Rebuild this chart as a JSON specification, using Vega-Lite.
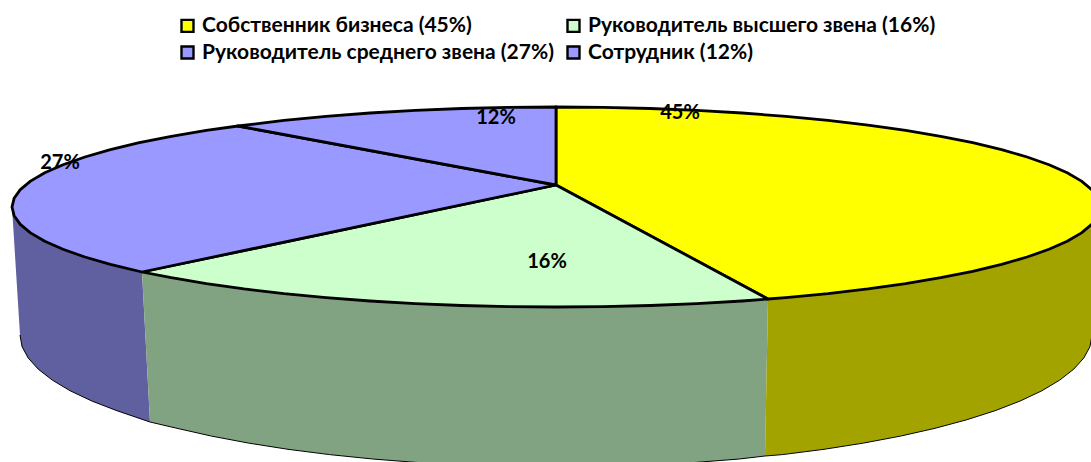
{
"$schema":"https://vega.github.io/schema/vega-lite/v6.json",
"width":1091,"height":462,"padding":0,
"autosize":{"type":"fit","contains":"padding"},
"background":"white",
"config":{"view":{"stroke":null}},
"datasets":{
"side":[
{"part":"purple","seq":1,"x":12,"y":207},{"part":"purple","seq":2,"x":14.1,"y":215.7},{"part":"purple","seq":3,"x":20.3,"y":224.4},{"part":"purple","seq":4,"x":30.5,"y":232.9},{"part":"purple","seq":5,"x":44.8,"y":241.2},{"part":"purple","seq":6,"x":63,"y":249.3},{"part":"purple","seq":7,"x":84.9,"y":257},{"part":"purple","seq":8,"x":110.4,"y":264.4},{"part":"purple","seq":9,"x":142,"y":272},{"part":"purple","seq":10,"x":150,"y":422},{"part":"purple","seq":11,"x":116.9,"y":410.7},{"part":"purple","seq":12,"x":91.8,"y":401},{"part":"purple","seq":13,"x":70.2,"y":390.8},{"part":"purple","seq":14,"x":52.3,"y":380.1},{"part":"purple","seq":15,"x":38.3,"y":369.2},{"part":"purple","seq":16,"x":28.1,"y":357.9},{"part":"purple","seq":17,"x":22,"y":346.5},{"part":"purple","seq":18,"x":20,"y":335},{"part":"purple","seq":19,"x":12,"y":207},
{"part":"green","seq":1,"x":142,"y":272},{"part":"green","seq":2,"x":171.3,"y":277.7},{"part":"green","seq":3,"x":206.3,"y":283.6},{"part":"green","seq":4,"x":244,"y":288.9},{"part":"green","seq":5,"x":284,"y":293.6},{"part":"green","seq":6,"x":326.1,"y":297.6},{"part":"green","seq":7,"x":370,"y":301},{"part":"green","seq":8,"x":415.2,"y":303.6},{"part":"green","seq":9,"x":461.6,"y":305.5},{"part":"green","seq":10,"x":508.6,"y":306.6},{"part":"green","seq":11,"x":556,"y":307},{"part":"green","seq":12,"x":603.4,"y":306.6},{"part":"green","seq":13,"x":650.4,"y":305.5},{"part":"green","seq":14,"x":696.8,"y":303.6},{"part":"green","seq":15,"x":742,"y":301},{"part":"green","seq":16,"x":768,"y":299},{"part":"green","seq":17,"x":765,"y":456},{"part":"green","seq":18,"x":739.3,"y":459},{"part":"green","seq":19,"x":694.7,"y":462.5},{"part":"green","seq":20,"x":649.1,"y":465},{"part":"green","seq":21,"x":602.7,"y":466.5},{"part":"green","seq":22,"x":556,"y":467},{"part":"green","seq":23,"x":509.3,"y":466.5},{"part":"green","seq":24,"x":462.9,"y":465},{"part":"green","seq":25,"x":417.3,"y":462.5},{"part":"green","seq":26,"x":372.7,"y":459},{"part":"green","seq":27,"x":329.5,"y":454.6},{"part":"green","seq":28,"x":288,"y":449.3},{"part":"green","seq":29,"x":248.6,"y":443.1},{"part":"green","seq":30,"x":211.5,"y":436.1},{"part":"green","seq":31,"x":177,"y":428.3},{"part":"green","seq":32,"x":150,"y":422},{"part":"green","seq":33,"x":142,"y":272},
{"part":"yellow","seq":1,"x":768,"y":299},{"part":"yellow","seq":2,"x":785.9,"y":297.6},{"part":"yellow","seq":3,"x":828,"y":293.6},{"part":"yellow","seq":4,"x":868,"y":288.9},{"part":"yellow","seq":5,"x":905.7,"y":283.6},{"part":"yellow","seq":6,"x":940.7,"y":277.7},{"part":"yellow","seq":7,"x":972.7,"y":271.3},{"part":"yellow","seq":8,"x":1001.6,"y":264.4},{"part":"yellow","seq":9,"x":1027.1,"y":257},{"part":"yellow","seq":10,"x":1049,"y":249.3},{"part":"yellow","seq":11,"x":1067.2,"y":241.2},{"part":"yellow","seq":12,"x":1081.5,"y":232.9},{"part":"yellow","seq":13,"x":1091.7,"y":224.4},{"part":"yellow","seq":14,"x":1097.9,"y":215.7},{"part":"yellow","seq":15,"x":1100,"y":207},{"part":"yellow","seq":16,"x":1092,"y":335},{"part":"yellow","seq":17,"x":1090,"y":346.5},{"part":"yellow","seq":18,"x":1083.9,"y":357.9},{"part":"yellow","seq":19,"x":1073.7,"y":369.2},{"part":"yellow","seq":20,"x":1059.7,"y":380.1},{"part":"yellow","seq":21,"x":1041.8,"y":390.8},{"part":"yellow","seq":22,"x":1020.2,"y":401},{"part":"yellow","seq":23,"x":995.1,"y":410.7},{"part":"yellow","seq":24,"x":966.6,"y":419.8},{"part":"yellow","seq":25,"x":935,"y":428.3},{"part":"yellow","seq":26,"x":900.5,"y":436.1},{"part":"yellow","seq":27,"x":863.4,"y":443.1},{"part":"yellow","seq":28,"x":824,"y":449.3},{"part":"yellow","seq":29,"x":782.5,"y":454.6},{"part":"yellow","seq":30,"x":765,"y":456},{"part":"yellow","seq":31,"x":768,"y":299}
],
"rim":[
{"seq":1,"x":20,"y":335},{"seq":2,"x":22,"y":346.5},{"seq":3,"x":28.1,"y":357.9},{"seq":4,"x":38.3,"y":369.2},{"seq":5,"x":52.3,"y":380.1},{"seq":6,"x":70.2,"y":390.8},{"seq":7,"x":91.8,"y":401},{"seq":8,"x":116.9,"y":410.7},{"seq":9,"x":150,"y":422},{"seq":10,"x":177,"y":428.3},{"seq":11,"x":211.5,"y":436.1},{"seq":12,"x":248.6,"y":443.1},{"seq":13,"x":288,"y":449.3},{"seq":14,"x":329.5,"y":454.6},{"seq":15,"x":372.7,"y":459},{"seq":16,"x":417.3,"y":462.5},{"seq":17,"x":462.9,"y":465},{"seq":18,"x":509.3,"y":466.5},{"seq":19,"x":556,"y":467},{"seq":20,"x":602.7,"y":466.5},{"seq":21,"x":649.1,"y":465},{"seq":22,"x":694.7,"y":462.5},{"seq":23,"x":739.3,"y":459},{"seq":24,"x":765,"y":456},{"seq":25,"x":782.5,"y":454.6},{"seq":26,"x":824,"y":449.3},{"seq":27,"x":863.4,"y":443.1},{"seq":28,"x":900.5,"y":436.1},{"seq":29,"x":935,"y":428.3},{"seq":30,"x":966.6,"y":419.8},{"seq":31,"x":995.1,"y":410.7},{"seq":32,"x":1020.2,"y":401},{"seq":33,"x":1041.8,"y":390.8},{"seq":34,"x":1059.7,"y":380.1},{"seq":35,"x":1073.7,"y":369.2},{"seq":36,"x":1083.9,"y":357.9},{"seq":37,"x":1090,"y":346.5},{"seq":38,"x":1092,"y":335}
],
"top":[
{"slice":"Собственник бизнеса (45%)","seq":1,"x":556,"y":185},{"slice":"Собственник бизнеса (45%)","seq":2,"x":556,"y":107},{"slice":"Собственник бизнеса (45%)","seq":3,"x":603.4,"y":107.4},{"slice":"Собственник бизнеса (45%)","seq":4,"x":650.4,"y":108.5},{"slice":"Собственник бизнеса (45%)","seq":5,"x":696.8,"y":110.4},{"slice":"Собственник бизнеса (45%)","seq":6,"x":742,"y":113},{"slice":"Собственник бизнеса (45%)","seq":7,"x":785.9,"y":116.4},{"slice":"Собственник бизнеса (45%)","seq":8,"x":828,"y":120.4},{"slice":"Собственник бизнеса (45%)","seq":9,"x":868,"y":125.1},{"slice":"Собственник бизнеса (45%)","seq":10,"x":905.7,"y":130.4},{"slice":"Собственник бизнеса (45%)","seq":11,"x":940.7,"y":136.3},{"slice":"Собственник бизнеса (45%)","seq":12,"x":972.7,"y":142.7},{"slice":"Собственник бизнеса (45%)","seq":13,"x":1001.6,"y":149.6},{"slice":"Собственник бизнеса (45%)","seq":14,"x":1027.1,"y":157},{"slice":"Собственник бизнеса (45%)","seq":15,"x":1049,"y":164.7},{"slice":"Собственник бизнеса (45%)","seq":16,"x":1067.2,"y":172.8},{"slice":"Собственник бизнеса (45%)","seq":17,"x":1081.5,"y":181.1},{"slice":"Собственник бизнеса (45%)","seq":18,"x":1091.7,"y":189.6},{"slice":"Собственник бизнеса (45%)","seq":19,"x":1097.9,"y":198.3},{"slice":"Собственник бизнеса (45%)","seq":20,"x":1100,"y":207},{"slice":"Собственник бизнеса (45%)","seq":21,"x":1097.9,"y":215.7},{"slice":"Собственник бизнеса (45%)","seq":22,"x":1091.7,"y":224.4},{"slice":"Собственник бизнеса (45%)","seq":23,"x":1081.5,"y":232.9},{"slice":"Собственник бизнеса (45%)","seq":24,"x":1067.2,"y":241.2},{"slice":"Собственник бизнеса (45%)","seq":25,"x":1049,"y":249.3},{"slice":"Собственник бизнеса (45%)","seq":26,"x":1027.1,"y":257},{"slice":"Собственник бизнеса (45%)","seq":27,"x":1001.6,"y":264.4},{"slice":"Собственник бизнеса (45%)","seq":28,"x":972.7,"y":271.3},{"slice":"Собственник бизнеса (45%)","seq":29,"x":940.7,"y":277.7},{"slice":"Собственник бизнеса (45%)","seq":30,"x":905.7,"y":283.6},{"slice":"Собственник бизнеса (45%)","seq":31,"x":868,"y":288.9},{"slice":"Собственник бизнеса (45%)","seq":32,"x":828,"y":293.6},{"slice":"Собственник бизнеса (45%)","seq":33,"x":785.9,"y":297.6},{"slice":"Собственник бизнеса (45%)","seq":34,"x":768,"y":299},{"slice":"Собственник бизнеса (45%)","seq":35,"x":556,"y":185},
{"slice":"Руководитель высшего звена (16%)","seq":1,"x":556,"y":185},{"slice":"Руководитель высшего звена (16%)","seq":2,"x":768,"y":299},{"slice":"Руководитель высшего звена (16%)","seq":3,"x":742,"y":301},{"slice":"Руководитель высшего звена (16%)","seq":4,"x":696.8,"y":303.6},{"slice":"Руководитель высшего звена (16%)","seq":5,"x":650.4,"y":305.5},{"slice":"Руководитель высшего звена (16%)","seq":6,"x":603.4,"y":306.6},{"slice":"Руководитель высшего звена (16%)","seq":7,"x":556,"y":307},{"slice":"Руководитель высшего звена (16%)","seq":8,"x":508.6,"y":306.6},{"slice":"Руководитель высшего звена (16%)","seq":9,"x":461.6,"y":305.5},{"slice":"Руководитель высшего звена (16%)","seq":10,"x":415.2,"y":303.6},{"slice":"Руководитель высшего звена (16%)","seq":11,"x":370,"y":301},{"slice":"Руководитель высшего звена (16%)","seq":12,"x":326.1,"y":297.6},{"slice":"Руководитель высшего звена (16%)","seq":13,"x":284,"y":293.6},{"slice":"Руководитель высшего звена (16%)","seq":14,"x":244,"y":288.9},{"slice":"Руководитель высшего звена (16%)","seq":15,"x":206.3,"y":283.6},{"slice":"Руководитель высшего звена (16%)","seq":16,"x":171.3,"y":277.7},{"slice":"Руководитель высшего звена (16%)","seq":17,"x":142,"y":272},{"slice":"Руководитель высшего звена (16%)","seq":18,"x":556,"y":185},
{"slice":"Руководитель среднего звена (27%)","seq":1,"x":556,"y":185},{"slice":"Руководитель среднего звена (27%)","seq":2,"x":142,"y":272},{"slice":"Руководитель среднего звена (27%)","seq":3,"x":110.4,"y":264.4},{"slice":"Руководитель среднего звена (27%)","seq":4,"x":84.9,"y":257},{"slice":"Руководитель среднего звена (27%)","seq":5,"x":63,"y":249.3},{"slice":"Руководитель среднего звена (27%)","seq":6,"x":44.8,"y":241.2},{"slice":"Руководитель среднего звена (27%)","seq":7,"x":30.5,"y":232.9},{"slice":"Руководитель среднего звена (27%)","seq":8,"x":20.3,"y":224.4},{"slice":"Руководитель среднего звена (27%)","seq":9,"x":14.1,"y":215.7},{"slice":"Руководитель среднего звена (27%)","seq":10,"x":12,"y":207},{"slice":"Руководитель среднего звена (27%)","seq":11,"x":14.1,"y":198.3},{"slice":"Руководитель среднего звена (27%)","seq":12,"x":20.3,"y":189.6},{"slice":"Руководитель среднего звена (27%)","seq":13,"x":30.5,"y":181.1},{"slice":"Руководитель среднего звена (27%)","seq":14,"x":44.8,"y":172.8},{"slice":"Руководитель среднего звена (27%)","seq":15,"x":63,"y":164.7},{"slice":"Руководитель среднего звена (27%)","seq":16,"x":84.9,"y":157},{"slice":"Руководитель среднего звена (27%)","seq":17,"x":110.4,"y":149.6},{"slice":"Руководитель среднего звена (27%)","seq":18,"x":139.3,"y":142.7},{"slice":"Руководитель среднего звена (27%)","seq":19,"x":171.3,"y":136.3},{"slice":"Руководитель среднего звена (27%)","seq":20,"x":206.3,"y":130.4},{"slice":"Руководитель среднего звена (27%)","seq":21,"x":238,"y":126},{"slice":"Руководитель среднего звена (27%)","seq":22,"x":556,"y":185},
{"slice":"Сотрудник (12%)","seq":1,"x":556,"y":185},{"slice":"Сотрудник (12%)","seq":2,"x":238,"y":126},{"slice":"Сотрудник (12%)","seq":3,"x":284,"y":120.4},{"slice":"Сотрудник (12%)","seq":4,"x":326.1,"y":116.4},{"slice":"Сотрудник (12%)","seq":5,"x":370,"y":113},{"slice":"Сотрудник (12%)","seq":6,"x":415.2,"y":110.4},{"slice":"Сотрудник (12%)","seq":7,"x":461.6,"y":108.5},{"slice":"Сотрудник (12%)","seq":8,"x":508.6,"y":107.4},{"slice":"Сотрудник (12%)","seq":9,"x":556,"y":107},{"slice":"Сотрудник (12%)","seq":10,"x":556,"y":185}
],
"labels":[
{"label":"45%","x":680,"y":113},{"label":"16%","x":547,"y":262},{"label":"27%","x":60,"y":163},{"label":"12%","x":496,"y":118}
]
},
"encoding":{
"x":{"field":"x","type":"quantitative","axis":null,"scale":{"domain":[0,1091],"nice":false,"zero":false}},
"y":{"field":"y","type":"quantitative","axis":null,"scale":{"domain":[0,462],"nice":false,"zero":false,"reverse":true}}
},
"resolve":{"scale":{"fill":"independent"}},
"layer":[
{"data":{"name":"side"},
 "mark":{"type":"line","clip":true,"strokeWidth":0,"interpolate":"linear"},
 "encoding":{"order":{"field":"seq","type":"quantitative"},
  "fill":{"field":"part","type":"nominal","legend":null,"scale":{"domain":["purple","green","yellow"],"range":["#6060a0","#82a382","#a3a300"]}}}},
{"data":{"name":"rim"},
 "mark":{"type":"line","clip":true,"stroke":"black","strokeWidth":1},
 "encoding":{"order":{"field":"seq","type":"quantitative"}}},
{"data":{"name":"top"},
 "mark":{"type":"line","clip":true,"stroke":"black","strokeWidth":2.8,"strokeJoin":"round"},
 "encoding":{"order":{"field":"seq","type":"quantitative"},
  "fill":{"field":"slice","type":"nominal",
   "scale":{"domain":["Собственник бизнеса (45%)","Руководитель высшего звена (16%)","Руководитель среднего звена (27%)","Сотрудник (12%)"],"range":["#ffff00","#ccffcc","#9999ff","#9999ff"]},
   "legend":{"title":null,"orient":"none","direction":"horizontal","legendX":177,"legendY":15,"columns":2,"symbolType":"square","symbolSize":144,"symbolStrokeColor":"black","symbolStrokeWidth":2.4,"symbolOpacity":1,"labelFont":"Lato","labelFontWeight":"bold","labelFontSize":21,"labelColor":"black","labelOffset":4,"labelLimit":500,"columnPadding":8,"rowPadding":4,"padding":0}}}},
{"data":{"name":"labels"},
 "mark":{"type":"text","font":"Lato","fontWeight":"bold","fontSize":20,"color":"black","align":"center","baseline":"middle"},
 "encoding":{"text":{"field":"label","type":"nominal"}}}
]
}
